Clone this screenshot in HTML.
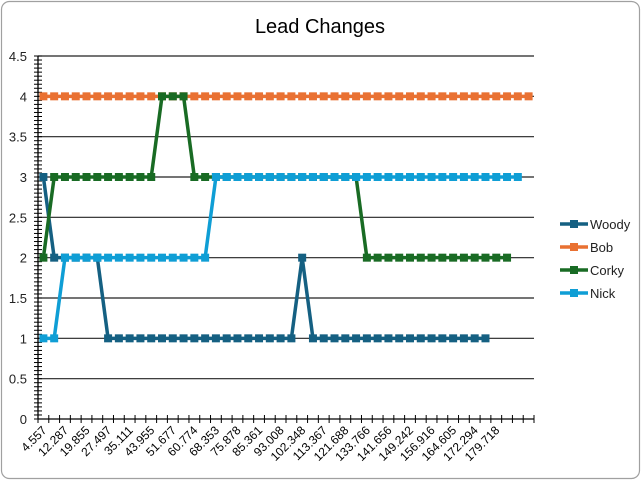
<!DOCTYPE html>
<html><head><meta charset="utf-8"><style>
html,body{margin:0;padding:0;background:#fff;}
svg{display:block;font-family:"Liberation Sans",sans-serif;}
</style></head><body>
<svg id="chart" width="641" height="480" viewBox="0 0 641 480">
<rect x="1.5" y="1.5" width="638" height="477" rx="8" fill="#fff" stroke="#a0a0a0" stroke-width="1.2"/>
<text x="320" y="33" font-size="20" text-anchor="middle" fill="#000">Lead Changes</text>
<g id="grid"></g><g id="axes"></g><g id="series"></g><g id="legend"></g>
</svg>
<script>
const xLabels=["4.557","12.287","19.855","27.497","35.111","43.955","51.677","60.774","68.353","75.878","85.361","93.008","102.348","113.367","121.688","133.766","141.656","149.242","156.916","164.605","172.294","179.718"];
const woody=[3,2,2,2,2,2,1,1,1,1,1,1,1,1,1,1,1,1,1,1,1,1,1,1,2,1,1,1,1,1,1,1,1,1,1,1,1,1,1,1,1,1];
const bob=[4,4,4,4,4,4,4,4,4,4,4,4,4,4,4,4,4,4,4,4,4,4,4,4,4,4,4,4,4,4,4,4,4,4,4,4,4,4,4,4,4,4,4,4,4,4];
const corky=[2,3,3,3,3,3,3,3,3,3,3,4,4,4,3,3,3,3,3,3,3,3,3,3,3,3,3,3,3,3,2,2,2,2,2,2,2,2,2,2,2,2,2,2];
const nick=[1,1,2,2,2,2,2,2,2,2,2,2,2,2,2,2,3,3,3,3,3,3,3,3,3,3,3,3,3,3,3,3,3,3,3,3,3,3,3,3,3,3,3,3,3];
const seriesNames=["Woody","Bob","Corky","Nick"];
const seriesColors=["#156082","#e97132","#196b24","#0f9ed5"];
const yTicks=[0,0.5,1,1.5,2,2.5,3,3.5,4,4.5];
const nCats=46;
const X0=38,X1=534,Y0=419,Y1=56,YMAX=4.5;
const NS="http://www.w3.org/2000/svg";
function xs(i){return X0+(i+0.5)*(X1-X0)/nCats;}
function ys(v){return Y0-(v/YMAX)*(Y0-Y1);}
function mk(tag,attrs,parent){const e=document.createElementNS(NS,tag);for(const k in attrs)e.setAttribute(k,attrs[k]);parent.appendChild(e);return e;}
const grid=document.getElementById('grid'),axes=document.getElementById('axes'),ser=document.getElementById('series'),leg=document.getElementById('legend');
yTicks.forEach(v=>{
 if(v>0){const l=mk('line',{x1:X0,x2:X1,y1:ys(v),y2:ys(v),stroke:'#222','stroke-width':1.2},grid);
 
 }
 const t=mk('text',{x:27,y:ys(v)+5,'font-size':13,'text-anchor':'end',fill:'#222'},axes);
 t.textContent=String(v);
 
 
});
for(let v=0;v<=YMAX+1e-9;v+=0.05){const y=ys(v);const l=mk('line',{x1:X0-4,x2:X0+4,y1:y,y2:y,stroke:'#000','stroke-width':1},axes);
 
 }
const ya=mk('line',{x1:X0,x2:X0,y1:Y1,y2:Y0,stroke:'#000','stroke-width':1.3},axes);


const xa=mk('line',{x1:X0,x2:X1,y1:Y0,y2:Y0,stroke:'#000','stroke-width':1.3},axes);


for(let i=0;i<=nCats;i++){const x=X0+i*(X1-X0)/nCats;const l=mk('line',{x1:x,x2:x,y1:Y0-4,y2:Y0+4,stroke:'#000','stroke-width':1},axes);
 
 }
xLabels.forEach((lab,k)=>{const x=xs(k*2)+4,y=Y0+12;
 const t=mk('text',{x:x,y:y,'font-size':12,'text-anchor':'end',fill:'#000',transform:`rotate(-45 ${x} ${y})`},axes);
 t.textContent=lab;
 
 });
[woody,bob,corky,nick].forEach((data,si)=>{
 const g=mk('g',{},ser);
 
 
 const pts=data.map((v,i)=>xs(i)+','+ys(v)).join(' ');
 const pl=mk('polyline',{points:pts,fill:'none',stroke:seriesColors[si],'stroke-width':3.5,'stroke-linejoin':'round'},g);
 
 
 data.forEach((v,i)=>{const r=mk('rect',{x:xs(i)-4,y:ys(v)-4,width:8,height:8,fill:seriesColors[si]},g);
  
  });
});
seriesNames.forEach((n,si)=>{const y=224+si*23;
 const g=mk('g',{},leg);
 
 
 mk('line',{x1:560,x2:588,y1:y,y2:y,stroke:seriesColors[si],'stroke-width':3.5},g);
 mk('rect',{x:570,y:y-4,width:8,height:8,fill:seriesColors[si]},g);
 const t=mk('text',{x:590,y:y+5,'font-size':13,fill:'#222'},g);
 t.textContent=n;});
</script>
</body></html>
